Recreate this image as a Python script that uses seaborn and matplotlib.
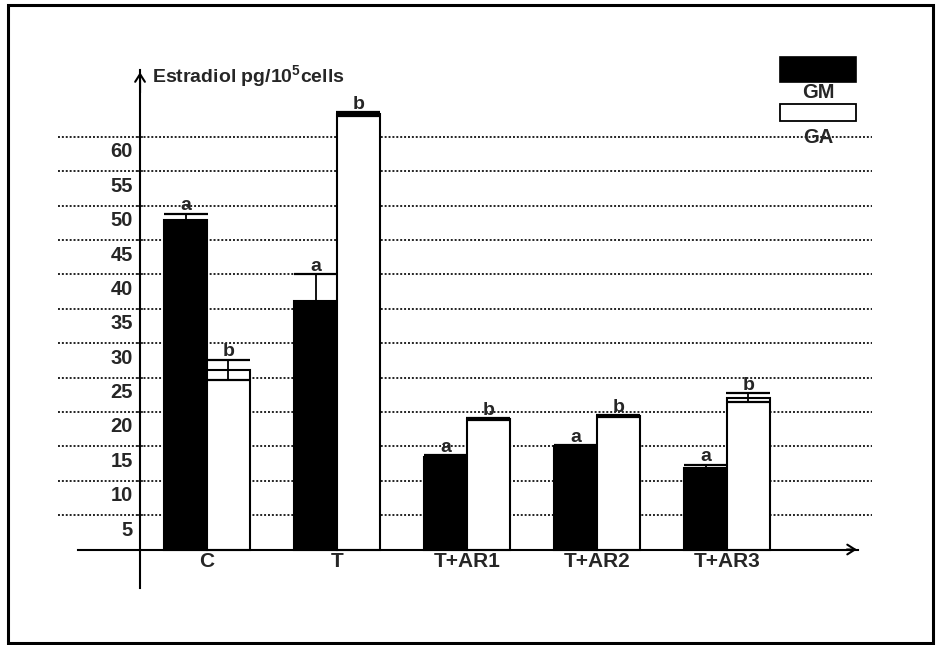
import matplotlib
matplotlib.use("Agg")
import matplotlib.pyplot as plt
from matplotlib.patches import Rectangle
from matplotlib.transforms import ScaledTranslation
import seaborn as sns
import pandas as pd


groups = ["C", "T", "T+AR1", "T+AR2", "T+AR3"]
cells = ["GM", "GA"]
gm_values = [47.9, 36.1, 13.5, 15.0, 11.8]
ga_values = [26.1, 63.3, 19.0, 19.4, 22.1]
gm_errors = [0.9, 3.9, 0.2, 0.2, 0.5]
ga_errors = [1.5, 0.3, 0.1, 0.1, 0.6]
gm_letters = ["a", "a", "a", "a", "a"]
ga_letters = ["b", "b", "b", "b", "b"]
y_ticks = [5, 10, 15, 20, 25, 30, 35, 40, 45, 50, 55, 60]


def make_frame():
    rows = []
    for i, g in enumerate(groups):
        rows.append({"groupe": g, "cellule": "GM", "valeur": gm_values[i], "err": gm_errors[i], "lettre": gm_letters[i]})
        rows.append({"groupe": g, "cellule": "GA", "valeur": ga_values[i], "err": ga_errors[i], "lettre": ga_letters[i]})
    return pd.DataFrame(rows)


def dessiner(df):
    sns.set_style("white")
    plt.rcParams["font.family"] = ["Liberation Sans", "DejaVu Sans"]
    plt.rcParams["mathtext.fontset"] = "custom"
    plt.rcParams["mathtext.rm"] = "Liberation Sans:bold"
    plt.rcParams["mathtext.default"] = "rm"

    fig = plt.figure(figsize=(9.42, 6.45), dpi=100)
    # axes placed in pixel space of the reference (58..872 wide, 55..600 tall)
    ax = fig.add_axes([58 / 942, 45 / 645, 814 / 942, 545 / 645])

    sns.barplot(data=df, x="groupe", y="valeur", hue="cellule", hue_order=cells,
                palette={"GM": "black", "GA": "white"}, edgecolor="black",
                linewidth=1.5, width=0.66, errorbar=None, legend=False,
                saturation=1, ax=ax, zorder=2)

    ax.set_xlim(-1.146, 5.115)
    ax.set_ylim(-7.34, 71.9)

    # error bars and letters
    for cont, cell in zip(ax.containers, cells):
        sub = df[df["cellule"] == cell].reset_index(drop=True)
        for p, (_, r) in zip(cont.patches, sub.iterrows()):
            cx = p.get_x() + p.get_width() / 2
            ax.errorbar(cx, r["valeur"], yerr=r["err"], fmt="none", ecolor="black",
                        elinewidth=1.3, capsize=15.5, capthick=1.6, zorder=3)
            ax.annotate(r["lettre"], (cx, r["valeur"] + r["err"]), xytext=(0, 2.5),
                        textcoords="offset points", ha="center", va="baseline",
                        fontsize=14, fontweight="bold")

    # grid
    ax.set_yticks(y_ticks)
    ax.set_yticklabels([str(t) for t in y_ticks])
    ax.yaxis.grid(True, linestyle=(0, (1, 1)), linewidth=1.4, color="#222222", zorder=0)
    ax.xaxis.grid(False)
    ax.set_axisbelow(True)

    # axes lines
    for s in ["top", "right"]:
        ax.spines[s].set_visible(False)
    ax.spines["left"].set_position(("data", -0.515))
    ax.spines["left"].set_bounds(-5.6, 69.7)
    ax.spines["bottom"].set_position(("data", 0))
    ax.spines["bottom"].set_bounds(-0.992, 5.008)
    for s in ["left", "bottom"]:
        ax.spines[s].set_linewidth(1.5)
        ax.spines[s].set_color("black")
        ax.spines[s].set_zorder(4)

    ax.annotate("", xy=(-0.515, 69.8), xytext=(-0.515, 66),
                arrowprops=dict(arrowstyle="->,head_length=0.55,head_width=0.35", lw=1.5, color="black"))
    ax.annotate("", xy=(5.02, 0), xytext=(4.9, 0),
                arrowprops=dict(arrowstyle="->,head_length=0.55,head_width=0.35", lw=1.5, color="black"))

    ax.tick_params(axis="y", direction="inout", length=5, width=1.2, pad=2.8,
                   labelsize=14.5, left=True)
    ax.tick_params(axis="x", length=0, pad=2, labelsize=15)
    for lab in ax.get_yticklabels():
        lab.set_fontweight("bold")
        lab.set_transform(lab.get_transform() + ScaledTranslation(0, -0.13, fig.dpi_scale_trans))
    for lab in ax.get_xticklabels():
        lab.set_fontweight("bold")
    ax.set_xlabel("")
    ax.set_ylabel("")

    fig.text(152 / 942, 1 - 76 / 645, r"Estradiol pg/10$^{5}$cells", ha="left",
             va="center", fontsize=14, fontweight="bold")

    # legend drawn as in the original figure (label under each box)
    fig.add_artist(Rectangle((780 / 942, 1 - 82 / 645), 76 / 942, 25 / 645,
                             transform=fig.transFigure, facecolor="black", edgecolor="black", lw=1.2))
    fig.text(818 / 942, 1 - 93 / 645, "GM", ha="center", va="center", fontsize=14.5, fontweight="bold")
    fig.add_artist(Rectangle((780 / 942, 1 - 121 / 645), 76 / 942, 17 / 645,
                             transform=fig.transFigure, facecolor="white", edgecolor="black", lw=1.3))
    fig.text(818 / 942, 1 - 137 / 645, "GA", ha="center", va="center", fontsize=14.5, fontweight="bold")

    # outer frame
    fig.add_artist(Rectangle((8 / 942, 2 / 645), 925 / 942, 638 / 645, transform=fig.transFigure,
                             facecolor="none", edgecolor="black", lw=2.2))

    fig.savefig("out.png", dpi=100)


def main():
    df = make_frame()
    dessiner(df)


if __name__ == "__main__":
    main()
